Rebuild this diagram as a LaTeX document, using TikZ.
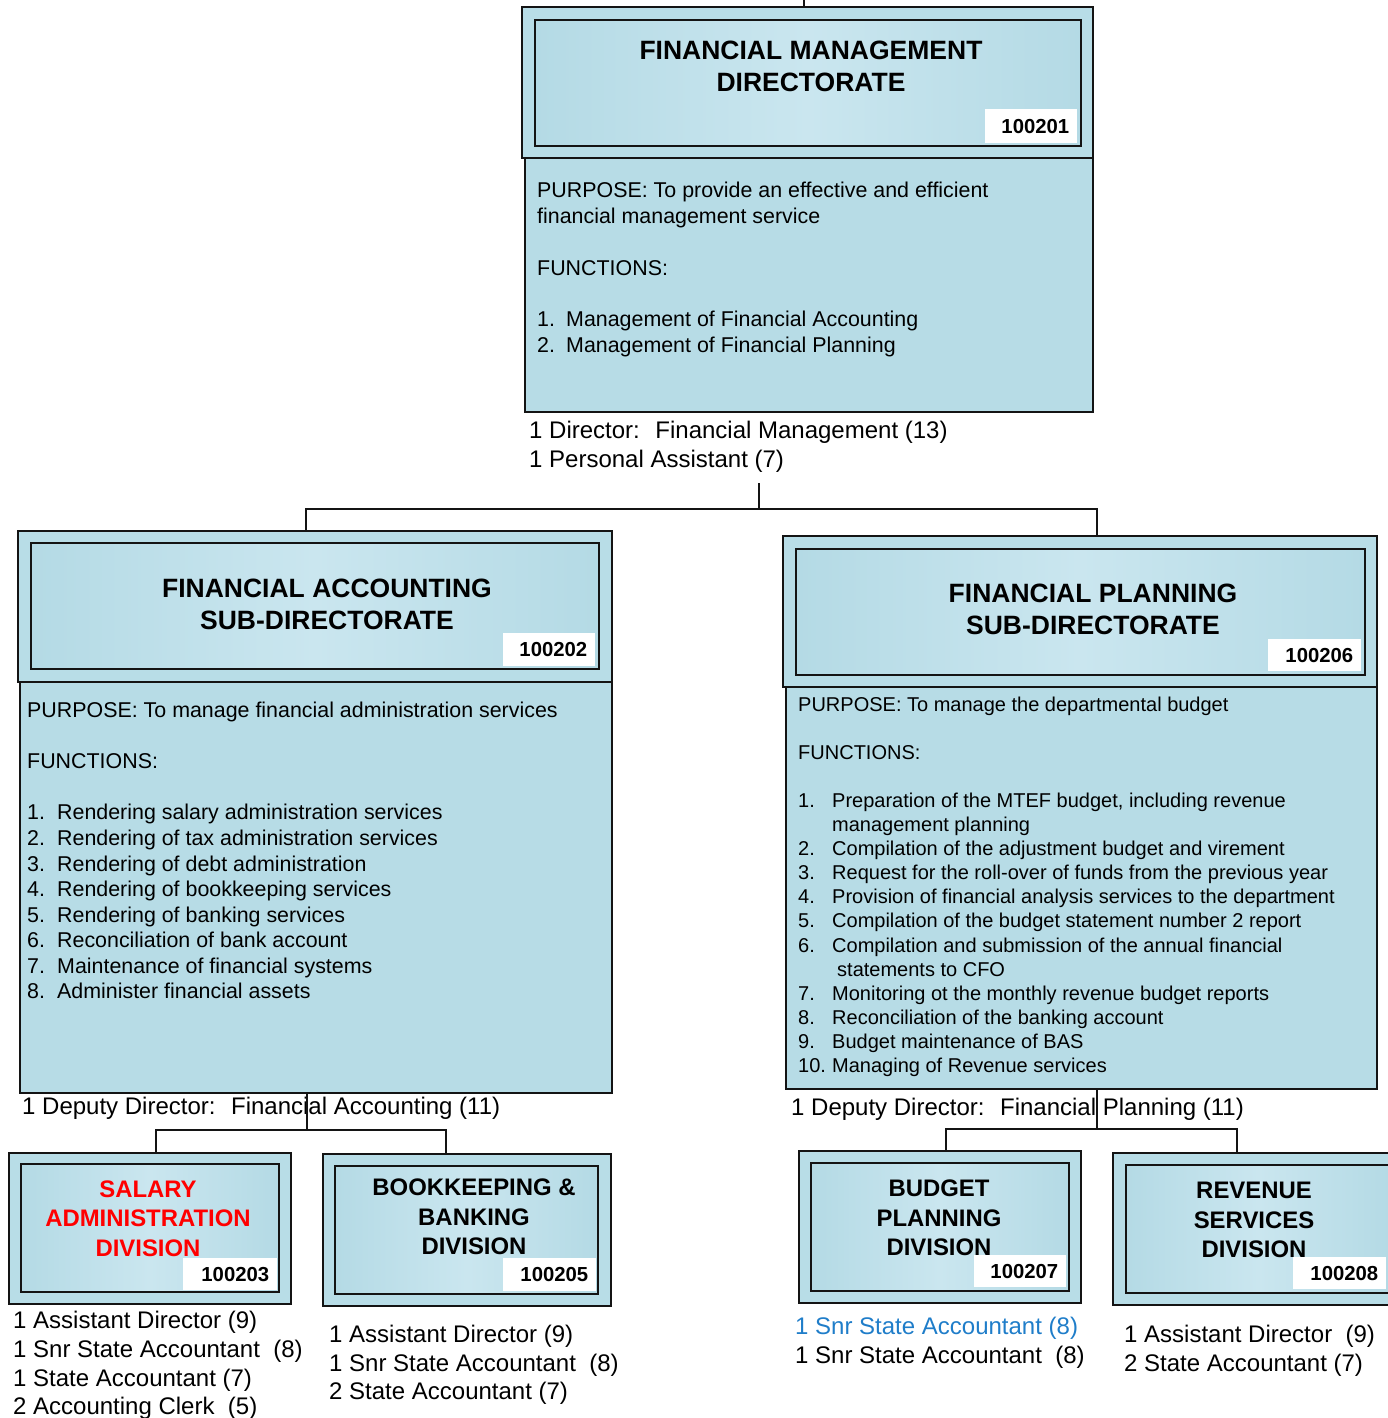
\documentclass[tikz,border=0pt]{standalone}
\usepackage{fontspec}
\setmainfont{Liberation Sans}
\definecolor{band}{HTML}{B8DDE7}
\definecolor{gA}{HTML}{B4DAE5}
\definecolor{gB}{HTML}{CAE6EF}
\definecolor{purp}{HTML}{B7DCE6}
\definecolor{staffblue}{HTML}{1F7DC9}
\definecolor{linec}{HTML}{141414}
\begin{document}
\begin{tikzpicture}[x=1pt,y=-1pt,
  outerbox/.style={draw=linec, line width=1.8pt, fill=band, anchor=north west, inner sep=0pt},
  innerbox/.style={draw=linec, line width=1.6pt, left color=gA, right color=gA, middle color=gB, anchor=north west, inner sep=0pt},
  purpbox/.style={draw=linec, line width=1.8pt, fill=purp, anchor=north west, inner sep=0pt},
  codebox/.style={fill=white, anchor=north west, inner xsep=8pt, inner ysep=0pt, align=right, font=\bfseries\fontsize{20.3}{24}\selectfont},
  titletext/.style={align=center, inner sep=0pt, font=\bfseries\fontsize{26.5}{32}\selectfont},
  divtitle/.style={align=center, inner sep=0pt, font=\bfseries\fontsize{23.9}{29.5}\selectfont},
  bodytext/.style={align=left, inner sep=0pt, anchor=north west},
  stafftext/.style={align=left, inner sep=0pt, anchor=north west},
  conn/.style={draw=linec, line width=1.6pt}
]
\useasboundingbox (0,0) rectangle (1388,1418);
\clip (0,0) rectangle (1388,1418);

% ---------- Top: Financial Management Directorate ----------
\node[purpbox, minimum width=568pt, minimum height=254pt] (fmdP) at (524,157) {};
\node[outerbox, minimum width=571pt, minimum height=151pt] (fmdOut) at (521,6) {};
\node[innerbox, minimum width=546pt, minimum height=126pt] (fmdIn) at (534,19) {};
\node[titletext] (fmdT) at (811,66) {FINANCIAL MANAGEMENT\\DIRECTORATE};
\node[codebox, text width=76pt, minimum height=34pt] (fmdC) at (985,109) {100201};
\node[bodytext, font=\fontsize{21.4}{25.8}\selectfont] (fmdTx) at (537,182)
 {PURPOSE: To provide an effective and efficient\\
  financial management service\\ ~\\
  FUNCTIONS:\\ ~\\
  \makebox[29pt][l]{1.}Management of Financial Accounting\\
  \makebox[29pt][l]{2.}Management of Financial Planning};
\node[stafftext, font=\fontsize{24}{29}\selectfont] (fmdS) at (529,421)
 {1 Director:~ Financial Management (13)\\
  1 Personal Assistant (7)};

% ---------- Left: Financial Accounting Sub-Directorate ----------
\node[purpbox, minimum width=592pt, minimum height=411pt] (fasP) at (19,681) {};
\node[outerbox, minimum width=594pt, minimum height=151pt] (fasOut) at (17,530) {};
\node[innerbox, minimum width=568pt, minimum height=126pt] (fasIn) at (30,542) {};
\node[titletext] (fasT) at (327,604) {FINANCIAL ACCOUNTING\\SUB-DIRECTORATE};
\node[codebox, text width=76pt, minimum height=33pt] (fasC) at (503,633) {100202};
\node[bodytext, font=\fontsize{21.4}{25.55}\selectfont] (fasTx) at (27,702)
 {PURPOSE: To manage financial administration services\\ ~\\
  FUNCTIONS:\\ ~\\
  \makebox[30pt][l]{1.}Rendering salary administration services\\
  \makebox[30pt][l]{2.}Rendering of tax administration services\\
  \makebox[30pt][l]{3.}Rendering of debt administration\\
  \makebox[30pt][l]{4.}Rendering of bookkeeping services\\
  \makebox[30pt][l]{5.}Rendering of banking services\\
  \makebox[30pt][l]{6.}Reconciliation of bank account\\
  \makebox[30pt][l]{7.}Maintenance of financial systems\\
  \makebox[30pt][l]{8.}Administer financial assets};
\node[stafftext, font=\fontsize{24}{29}\selectfont] (fasS) at (22,1097)
 {1 Deputy Director:~ Financial Accounting (11)};

% ---------- Right: Financial Planning Sub-Directorate ----------
\node[purpbox, minimum width=591pt, minimum height=402pt] (fpsP) at (785,686) {};
\node[outerbox, minimum width=594pt, minimum height=151pt] (fpsOut) at (782,535) {};
\node[innerbox, minimum width=569pt, minimum height=126pt] (fpsIn) at (795,548) {};
\node[titletext] (fpsT) at (1093,609) {FINANCIAL PLANNING\\SUB-DIRECTORATE};
\node[codebox, text width=77pt, minimum height=32pt] (fpsC) at (1268,639) {100206};
\node[bodytext, font=\fontsize{20}{24.07}\selectfont] (fpsTx) at (798,696.6)
 {PURPOSE: To manage the departmental budget\\ ~\\
  FUNCTIONS:\\ ~\\
  \makebox[34pt][l]{1.}Preparation of the MTEF budget, including revenue\\
  \hspace*{34pt}management planning\\
  \makebox[34pt][l]{2.}Compilation of the adjustment budget and virement\\
  \makebox[34pt][l]{3.}Request for the roll-over of funds from the previous year\\
  \makebox[34pt][l]{4.}Provision of financial analysis services to the department\\
  \makebox[34pt][l]{5.}Compilation of the budget statement number 2 report\\
  \makebox[34pt][l]{6.}Compilation and submission of the annual financial\\
  \hspace*{39pt}statements to CFO\\
  \makebox[34pt][l]{7.}Monitoring ot the monthly revenue budget reports\\
  \makebox[34pt][l]{8.}Reconciliation of the banking account\\
  \makebox[34pt][l]{9.}Budget maintenance of BAS\\
  \makebox[34pt][l]{10.}Managing of Revenue services};
\node[stafftext, font=\fontsize{24}{29}\selectfont] (fpsS) at (791,1098)
 {1 Deputy Director:~ Financial Planning (11)};

% ---------- Divisions ----------
\node[outerbox, minimum width=282pt, minimum height=151pt] (salOut) at (8,1152) {};
\node[innerbox, minimum width=258pt, minimum height=128pt] (salIn) at (20,1163) {};
\node[divtitle, text=red] (salT) at (148,1218.5) {SALARY\\ADMINISTRATION\\DIVISION};
\node[codebox, text width=78pt, minimum height=32pt] (salC) at (183,1258) {100203};
\node[stafftext, font=\fontsize{24}{28.7}\selectfont] (salS) at (13,1311)
 {1 Assistant Director (9)\\
  1 Snr State Accountant~ (8)\\
  1 State Accountant (7)\\
  2 Accounting Clerk~ (5)};

\node[outerbox, minimum width=288pt, minimum height=152pt] (bkOut) at (322,1153) {};
\node[innerbox, minimum width=263pt, minimum height=128pt] (bkIn) at (334,1165) {};
\node[divtitle] (bkT) at (474,1217) {BOOKKEEPING \&\\BANKING\\DIVISION};
\node[codebox, text width=77pt, minimum height=33pt] (bkC) at (503,1258) {100205};
\node[stafftext, font=\fontsize{24}{28.5}\selectfont] (bkS) at (329,1325)
 {1 Assistant Director (9)\\
  1 Snr State Accountant~ (8)\\
  2 State Accountant (7)};

\node[outerbox, minimum width=282pt, minimum height=152pt] (bpOut) at (798,1150) {};
\node[innerbox, minimum width=258pt, minimum height=128pt] (bpIn) at (810,1162) {};
\node[divtitle] (bpT) at (939,1218) {BUDGET\\PLANNING\\DIVISION};
\node[codebox, text width=76pt, minimum height=32pt] (bpC) at (974,1255) {100207};
\node[stafftext, font=\fontsize{24}{29}\selectfont] (bpS) at (795,1317)
 {\textcolor{staffblue}{1 Snr State Accountant (8)}\\
  1 Snr State Accountant~ (8)};

\node[outerbox, minimum width=290pt, minimum height=152pt] (rvOut) at (1112,1152) {};
\node[innerbox, minimum width=265pt, minimum height=128pt] (rvIn) at (1125,1164) {};
\node[divtitle] (rvT) at (1254,1220) {REVENUE\\SERVICES\\DIVISION};
\node[codebox, text width=77pt, minimum height=32pt] (rvC) at (1293,1257) {100208};
\node[stafftext, font=\fontsize{24}{29}\selectfont] (rvS) at (1124,1325)
 {1 Assistant Director~ (9)\\
  2 State Accountant (7)};

% ---------- Connectors ----------
\coordinate (topin) at (804,0);
\draw[conn] (topin) -- (topin |- fmdOut.north);

\coordinate (d1) at (759,483);
\coordinate (bus1) at (759,509);
\draw[conn] (d1) -- (bus1) -| ([xshift=289pt]fasOut.north west);
\draw[conn] (bus1) -| ([xshift=315pt]fpsOut.north west);

\coordinate (bus2) at (307,1130);
\draw[conn] ([xshift=288pt]fasP.south west) -- (bus2);
\draw[conn] (bus2) -| ([xshift=148pt]salOut.north west);
\draw[conn] (bus2) -| ([xshift=124pt]bkOut.north west);

\coordinate (bus3) at (1097,1129);
\draw[conn] ([xshift=312pt]fpsP.south west) -- (bus3);
\draw[conn] (bus3) -| ([xshift=148pt]bpOut.north west);
\draw[conn] (bus3) -| ([xshift=125pt]rvOut.north west);
\end{tikzpicture}
\end{document}
